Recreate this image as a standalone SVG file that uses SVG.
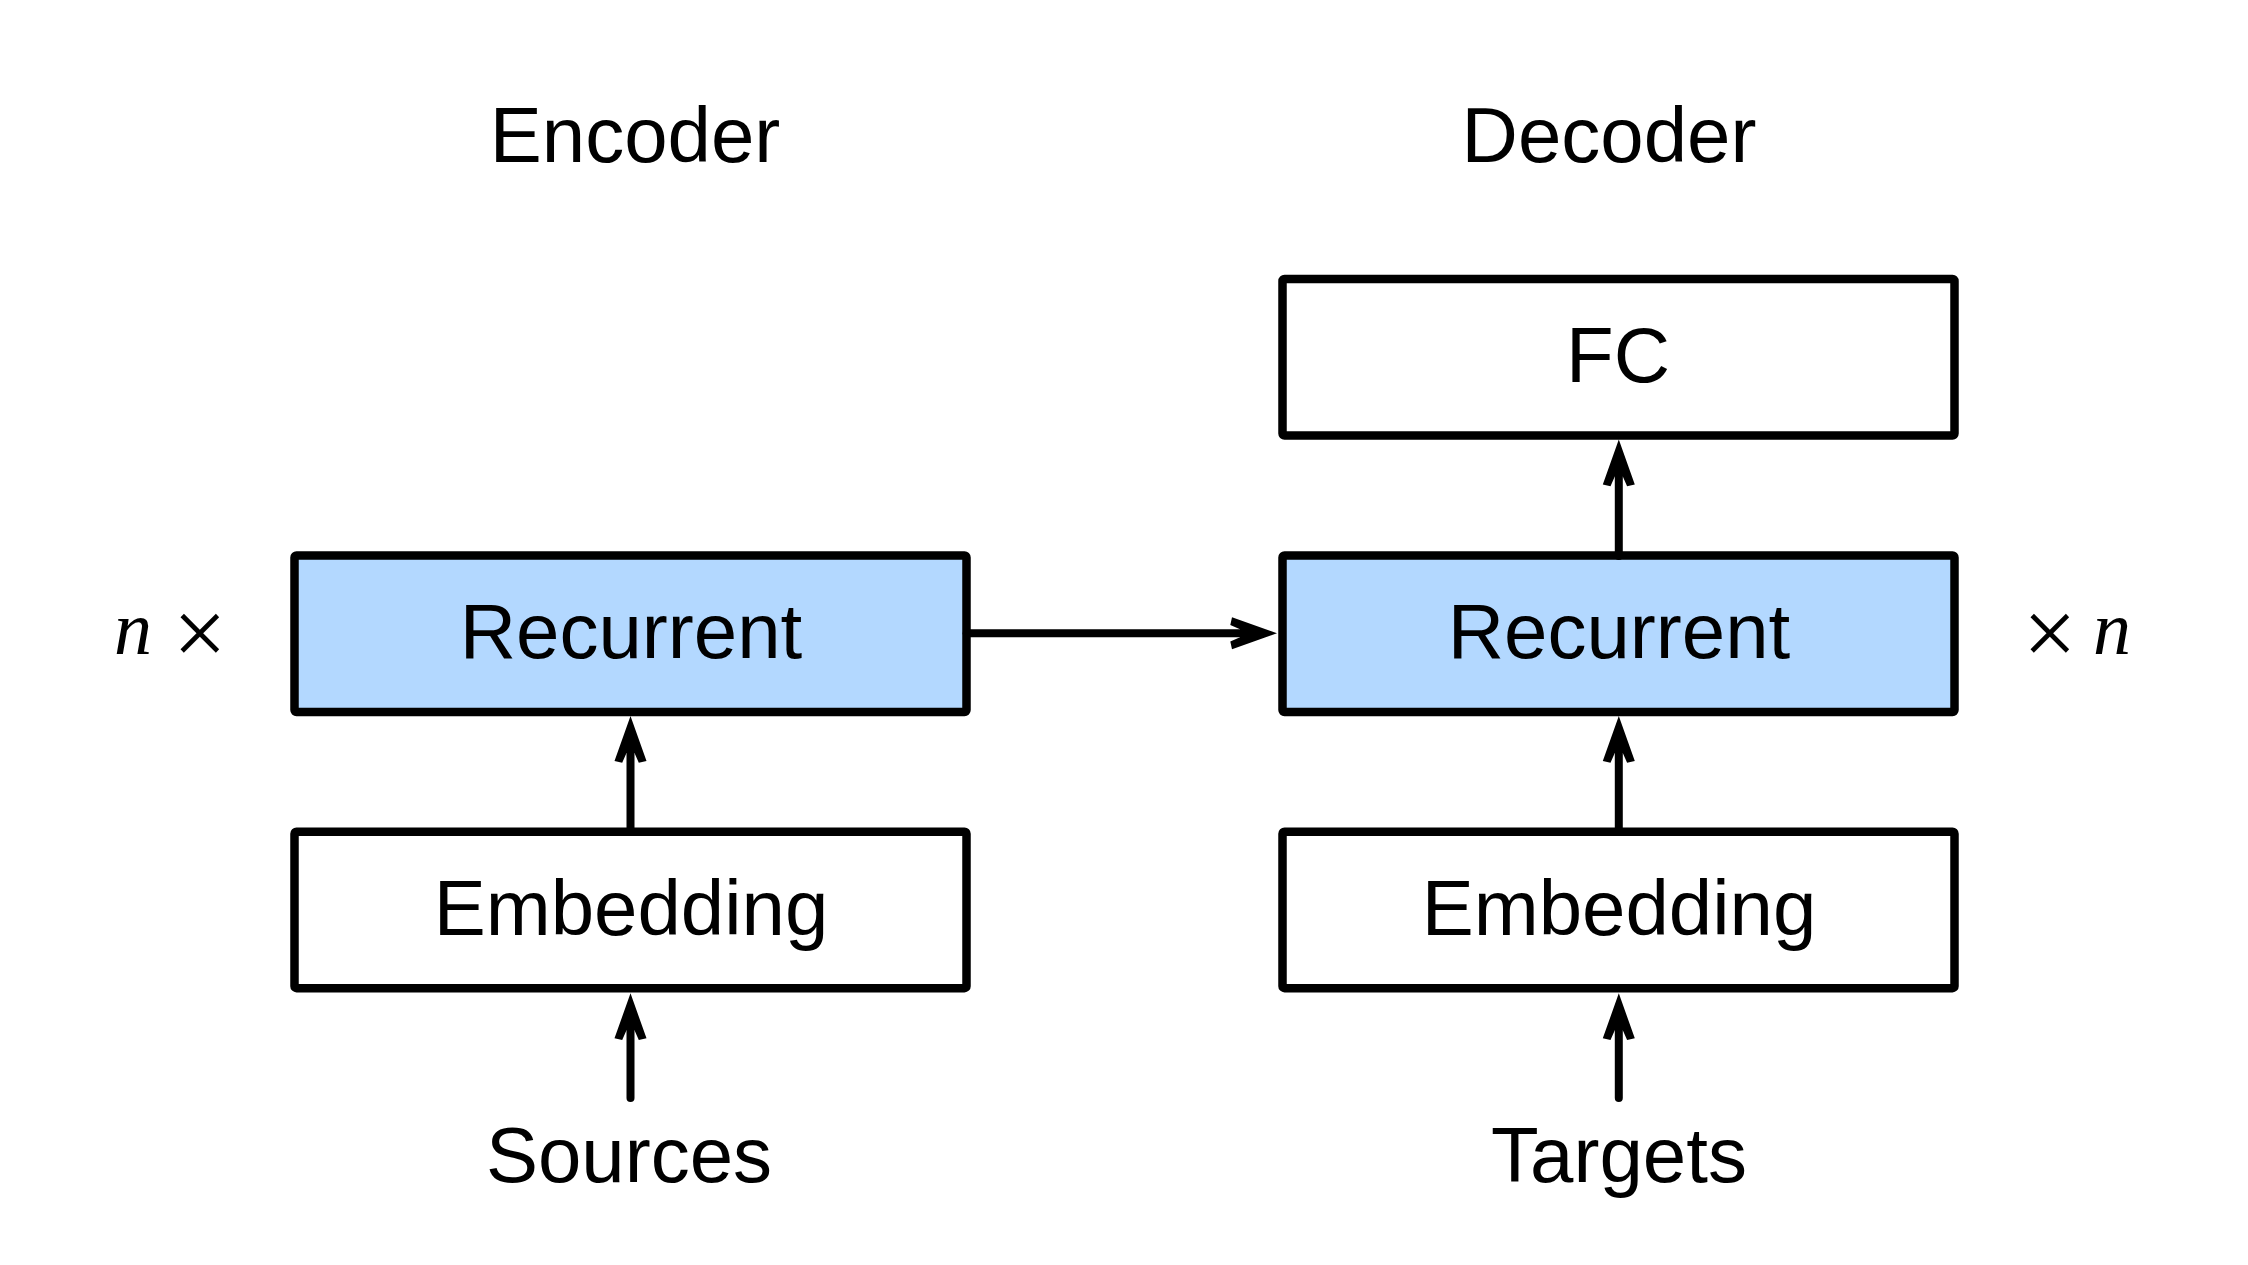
<svg xmlns="http://www.w3.org/2000/svg" width="2248" height="1265" viewBox="0 0 2248 1265">
  <style>
    .box { fill: #ffffff; stroke: #000000; stroke-width: 8.5; stroke-linejoin: round; }
    .rnn { fill: #b3d8ff; }
    .lbl { font-family: "Liberation Sans", Arial, Helvetica, sans-serif; font-size: 78px; fill: #000000; text-anchor: middle; }
    .math { font-family: "Liberation Serif", "Times New Roman", serif; font-size: 76px; fill: #000000; }
    .times { font-family: "Liberation Serif", "Times New Roman", serif; font-size: 95px; fill: #000000; }
    .conn { stroke: #000000; stroke-width: 8; fill: none; stroke-linecap: round; marker-end: url(#arrow); }
  </style>
  <defs>
    <marker id="arrow" markerUnits="userSpaceOnUse" viewBox="-12 -18 50 36" markerWidth="50" markerHeight="36" refX="0" refY="0" orient="auto" overflow="visible">
      <path d="M36,0 L-9,-16 L-10.7,-8.3 L-1,-4 L-1,4 L-10.7,8.3 L-9,16 Z" fill="#000000"/>
    </marker>
  </defs>
  <rect width="2248" height="1265" fill="#ffffff"/>

  <g id="title-encoder"><text class="lbl" x="635" y="162">Encoder</text></g>
  <g id="title-decoder"><text class="lbl" x="1609" y="162">Decoder</text></g>

  <g id="enc-recurrent">
    <rect class="box rnn" x="294.5" y="555.5" width="672" height="156.5" rx="2"/>
    <text class="lbl" x="631" y="658">Recurrent</text>
  </g>
  <g id="enc-embedding">
    <rect class="box" x="294.5" y="831.7" width="672" height="156.5" rx="2"/>
    <text class="lbl" x="631" y="935">Embedding</text>
  </g>
  <g id="dec-fc">
    <rect class="box" x="1282.5" y="279" width="672" height="156.5" rx="2"/>
    <text class="lbl" x="1618" y="382">FC</text>
  </g>
  <g id="dec-recurrent">
    <rect class="box rnn" x="1282.5" y="555.5" width="672" height="156.5" rx="2"/>
    <text class="lbl" x="1619" y="658">Recurrent</text>
  </g>
  <g id="dec-embedding">
    <rect class="box" x="1282.5" y="831.7" width="672" height="156.5" rx="2"/>
    <text class="lbl" x="1619" y="935">Embedding</text>
  </g>

  <g id="label-sources"><text class="lbl" x="629" y="1182">Sources</text></g>
  <g id="label-targets"><text class="lbl" x="1619" y="1182">Targets</text></g>

  <g id="enc-repeat">
    <text class="math" x="114" y="654" font-style="italic">n</text>
    <text class="times" x="173" y="665">×</text>
  </g>
  <g id="dec-repeat">
    <text class="times" x="2023" y="665">×</text>
    <text class="math" x="2093" y="654" font-style="italic">n</text>
  </g>

  <g id="connectors">
    <line class="conn" x1="966.7" y1="633.3" x2="1241" y2="633.3"/>
    <line class="conn" x1="630.5" y1="831.7" x2="630.5" y2="752"/>
    <line class="conn" x1="1618.8" y1="831.7" x2="1618.8" y2="752"/>
    <line class="conn" x1="1618.8" y1="556" x2="1618.8" y2="475.5"/>
    <line class="conn" x1="630.5" y1="1098" x2="630.5" y2="1029.3"/>
    <line class="conn" x1="1618.8" y1="1098" x2="1618.8" y2="1029.3"/>
  </g>
</svg>
